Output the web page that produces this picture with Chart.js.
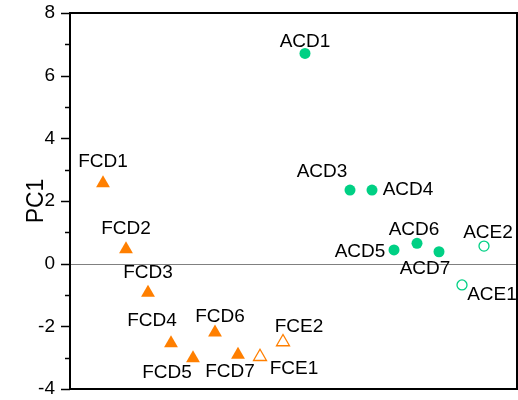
<!DOCTYPE html>
<html>
<head>
<meta charset="utf-8">
<script src="https://cdn.jsdelivr.net/npm/chart.js@4"></script>
<style>
  html, body { margin: 0; padding: 0; background: #fff; }
  #wrap { width: 518px; height: 400px; }
</style>
</head>
<body>
<div id="wrap"><canvas id="pcaChart"></canvas></div>
<script>
// sample names and PC1 scores (x is just the sample order across the plot)
const fcdLabels = ['FCD1', 'FCD2', 'FCD3', 'FCD4', 'FCD5', 'FCD6', 'FCD7'];
const fcdX = [33, 56, 78, 101, 123, 145, 168];
const fcdY = [2.57, 0.46, -0.93, -2.54, -3.02, -2.20, -2.91];

const fceLabels = ['FCE1', 'FCE2'];
const fceX = [190, 213];
const fceY = [-2.97, -2.50];

const acdLabels = ['ACD1', 'ACD3', 'ACD4', 'ACD5', 'ACD6', 'ACD7'];
const acdX = [235, 280, 302, 324, 347, 369];
const acdY = [6.71, 2.35, 2.35, 0.44, 0.65, 0.38];

const aceLabels = ['ACE1', 'ACE2'];
const aceX = [392, 414];
const aceY = [-0.68, 0.56];

const yTicks = [-4, -2, 0, 2, 4, 6, 8];

// label offsets from each marker (pixels)
const labelOffsets = {
    FCD1: [0, -21], FCD2: [0, -20], FCD3: [0, -20], FCD4: [-19, -22],
    FCD5: [-26, 14], FCD6: [5, -16], FCD7: [-8, 17],
    FCE1: [34, 12], FCE2: [16, -15],
    ACD1: [0, -12], ACD3: [-28, -18], ACD4: [36, 0], ACD5: [-34, 2],
    ACD6: [-3, -14], ACD7: [-14, 17],
    ACE1: [30, 10], ACE2: [4, -13]
};

const orange = '#ff7f00';
const green = '#00d084';
const fontFamily = '"Liberation Sans", Arial, sans-serif';

function toPoints(xs, ys, names) {
    return xs.map((x, i) => ({ x: x, y: ys[i], name: names[i] }));
}

// frame, zero line, y ticks, axis title and point labels
const decorPlugin = {
    id: 'decor',
    beforeDatasetsDraw(chart) {
        const ctx = chart.ctx;
        const area = chart.chartArea;
        const y0 = chart.scales.y.getPixelForValue(0);
        ctx.save();
        ctx.strokeStyle = '#808080';
        ctx.lineWidth = 1;
        ctx.beginPath();
        ctx.moveTo(area.left, Math.round(y0) + 0.5);
        ctx.lineTo(area.right, Math.round(y0) + 0.5);
        ctx.stroke();
        ctx.restore();
    },
    afterDraw(chart) {
        const ctx = chart.ctx;
        const area = chart.chartArea;
        const yScale = chart.scales.y;
        ctx.save();
        ctx.strokeStyle = '#000';
        ctx.lineWidth = 2;
        ctx.strokeRect(area.left, area.top, area.right - area.left, area.bottom - area.top);
        // major and minor ticks on the left axis
        ctx.lineWidth = 1.5;
        for (let v = -4; v <= 8; v++) {
            const py = Math.round(yScale.getPixelForValue(v)) + 0.5;
            const len = v % 2 === 0 ? 9 : 5;
            ctx.beginPath();
            ctx.moveTo(area.left - len, py);
            ctx.lineTo(area.left, py);
            ctx.stroke();
        }
        // y axis title
        ctx.fillStyle = '#000';
        ctx.font = '23px ' + fontFamily;
        ctx.textAlign = 'center';
        ctx.textBaseline = 'middle';
        ctx.translate(37, (area.top + area.bottom) / 2);
        ctx.rotate(-Math.PI / 2);
        ctx.fillText('PC1', 0, 0);
        ctx.setTransform(1, 0, 0, 1, 0, 0);
        // point labels
        ctx.font = '19px ' + fontFamily;
        chart.data.datasets.forEach((ds, di) => {
            const meta = chart.getDatasetMeta(di);
            meta.data.forEach((el, i) => {
                const name = ds.data[i].name;
                const off = labelOffsets[name] || [0, -15];
                ctx.fillText(name, el.x + off[0], el.y + off[1]);
            });
        });
        ctx.restore();
    }
};

const ctx = document.getElementById('pcaChart').getContext('2d');
new Chart(ctx, {
    type: 'scatter',
    data: {
        datasets: [
            {
                label: 'FCD',
                data: toPoints(fcdX, fcdY, fcdLabels),
                pointStyle: 'triangle',
                pointRadius: 8,
                backgroundColor: orange,
                borderColor: orange,
                borderWidth: 0
            },
            {
                label: 'FCE',
                data: toPoints(fceX, fceY, fceLabels),
                pointStyle: 'triangle',
                pointRadius: 7.5,
                backgroundColor: 'rgba(0,0,0,0)',
                borderColor: orange,
                borderWidth: 1.3
            },
            {
                label: 'ACD',
                data: toPoints(acdX, acdY, acdLabels),
                pointStyle: 'circle',
                pointRadius: 5.5,
                backgroundColor: green,
                borderColor: green,
                borderWidth: 0
            },
            {
                label: 'ACE',
                data: toPoints(aceX, aceY, aceLabels),
                pointStyle: 'circle',
                pointRadius: 5,
                backgroundColor: 'rgba(0,0,0,0)',
                borderColor: green,
                borderWidth: 1.3
            }
        ]
    },
    options: {
        responsive: true,
        maintainAspectRatio: false,
        animation: false,
        layout: {
            autoPadding: false,
            padding: { top: 13, right: 1, bottom: 11, left: 0 }
        },
        plugins: {
            legend: { display: false },
            tooltip: { enabled: false }
        },
        scales: {
            x: {
                type: 'linear',
                min: 0,
                max: 447,
                display: false
            },
            y: {
                min: -4,
                max: 8,
                afterBuildTicks: function(axis) {
                    axis.ticks = yTicks.map(v => ({ value: v }));
                },
                afterFit: function(axis) {
                    axis.width = 70;
                    axis.paddingTop = 0;
                    axis.paddingBottom = 0;
                },
                grid: { display: false, drawTicks: false },
                border: { display: false },
                ticks: {
                    color: '#000',
                    padding: 15,
                    font: { family: fontFamily, size: 19 }
                },
                title: { display: false }
            }
        }
    },
    plugins: [decorPlugin]
});
</script>
</body>
</html>
